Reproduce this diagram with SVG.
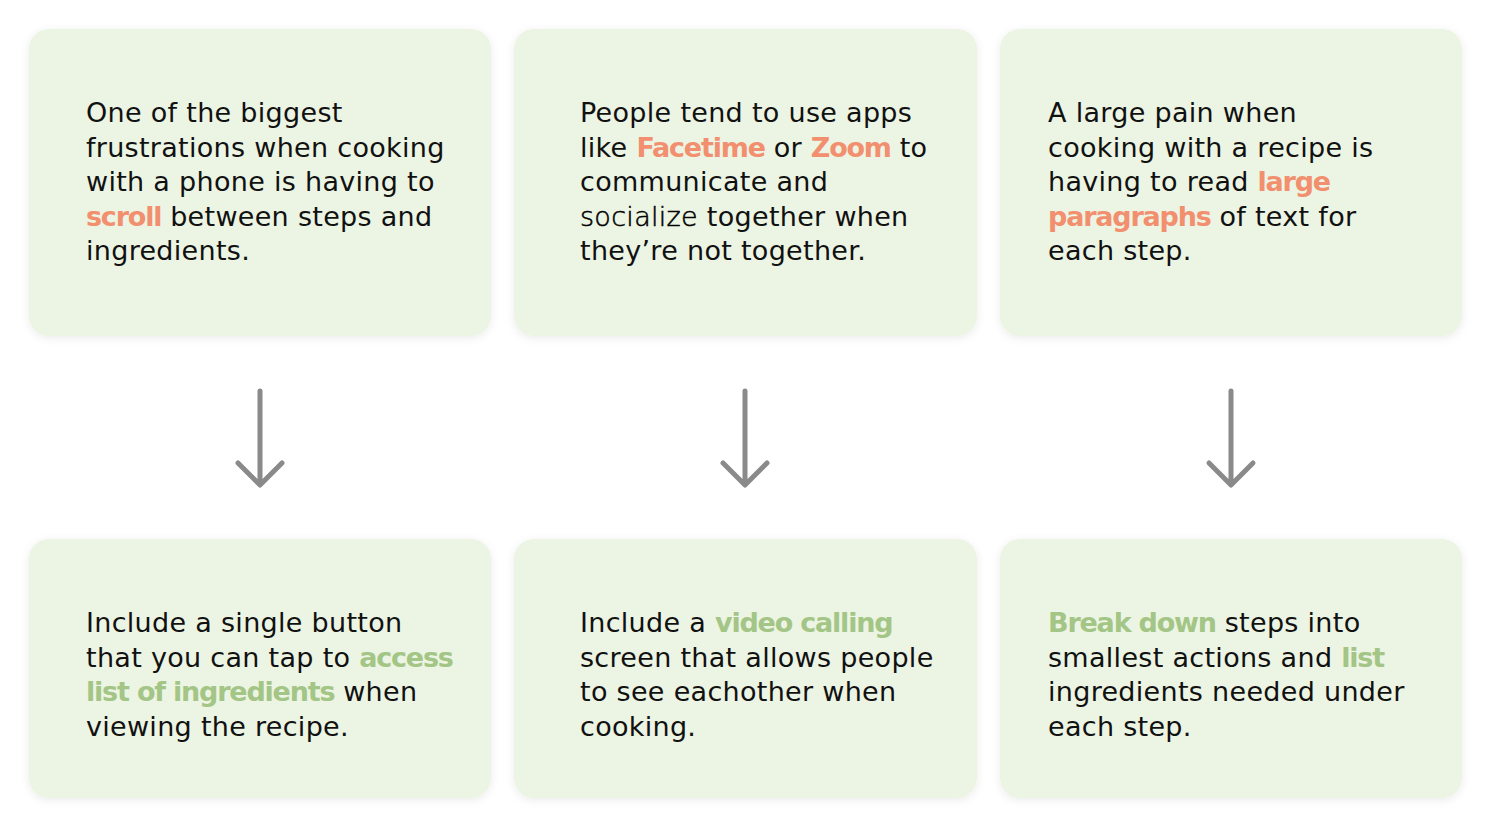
<svg xmlns="http://www.w3.org/2000/svg" width="1491" height="828" viewBox="0 0 1491 828">
<defs>
<filter id="sh" x="-10%" y="-10%" width="120%" height="125%">
<feDropShadow dx="0" dy="2" stdDeviation="4" flood-color="#000" flood-opacity="0.08"/>
</filter>
<style>
.card{fill:#ECF4E3;filter:url(#sh)}
text{font-family:"DejaVu Sans",sans-serif;font-size:27px;letter-spacing:0.3px;fill:#111}
.o{fill:#F28F6F;font-weight:bold;letter-spacing:-1.2px}
.g{fill:#A3C586;font-weight:bold;letter-spacing:-1.2px}
.l{font-weight:200;fill:#000;stroke:#000;stroke-width:0.5px}
.arr{fill:none;stroke:#8A8A8A;stroke-width:5;stroke-linecap:round;stroke-linejoin:round}
</style>
</defs>
<rect width="1491" height="828" fill="#fff"/>
<g id="n1"><rect class="card" x="29" y="29" width="462" height="307" rx="20"/>
<text x="86" y="122">One of the biggest</text>
<text x="86" y="156.5">frustrations when cooking</text>
<text x="86" y="191">with a phone is having to</text>
<text x="86" y="225.5"><tspan class="o">scroll</tspan> between steps and</text>
<text x="86" y="260">ingredients.</text></g>
<g id="n2"><rect class="card" x="514" y="29" width="463" height="307" rx="20"/>
<text x="580" y="122">People tend to use apps</text>
<text x="580" y="156.5">like <tspan class="o">Facetime</tspan> or <tspan class="o">Zoom</tspan> to</text>
<text x="580" y="191">communicate and</text>
<text x="580" y="225.5"><tspan class="l">socialize</tspan> together when</text>
<text x="580" y="260">they’re not together.</text></g>
<g id="n3"><rect class="card" x="1000" y="29" width="462" height="307" rx="20"/>
<text x="1048" y="122">A large pain when</text>
<text x="1048" y="156.5">cooking with a recipe is</text>
<text x="1048" y="191">having to read <tspan class="o">large</tspan></text>
<text x="1048" y="225.5"><tspan class="o">paragraphs</tspan> of text for</text>
<text x="1048" y="260">each step.</text></g>
<g id="n4"><rect class="card" x="29" y="539" width="462" height="259" rx="20"/>
<text x="86" y="632">Include a single button</text>
<text x="86" y="666.5">that you can tap to <tspan class="g">access</tspan></text>
<text x="86" y="701"><tspan class="g">list of ingredients</tspan> when</text>
<text x="86" y="735.5">viewing the recipe.</text></g>
<g id="n5"><rect class="card" x="514" y="539" width="463" height="259" rx="20"/>
<text x="580" y="632">Include a <tspan class="g">video calling</tspan></text>
<text x="580" y="666.5">screen that allows people</text>
<text x="580" y="701">to see eachother when</text>
<text x="580" y="735.5">cooking.</text></g>
<g id="n6"><rect class="card" x="1000" y="539" width="462" height="259" rx="20"/>
<text x="1048" y="632"><tspan class="g">Break down</tspan> steps into</text>
<text x="1048" y="666.5">smallest actions and <tspan class="g">list</tspan></text>
<text x="1048" y="701">ingredients needed under</text>
<text x="1048" y="735.5">each step.</text></g>
<g id="connectors">
<path class="arr" d="M260 391V484M238 463L260 485L282 463"/>
<path class="arr" d="M745 391V484M723 463L745 485L767 463"/>
<path class="arr" d="M1231 391V484M1209 463L1231 485L1253 463"/>
</g>
</svg>
